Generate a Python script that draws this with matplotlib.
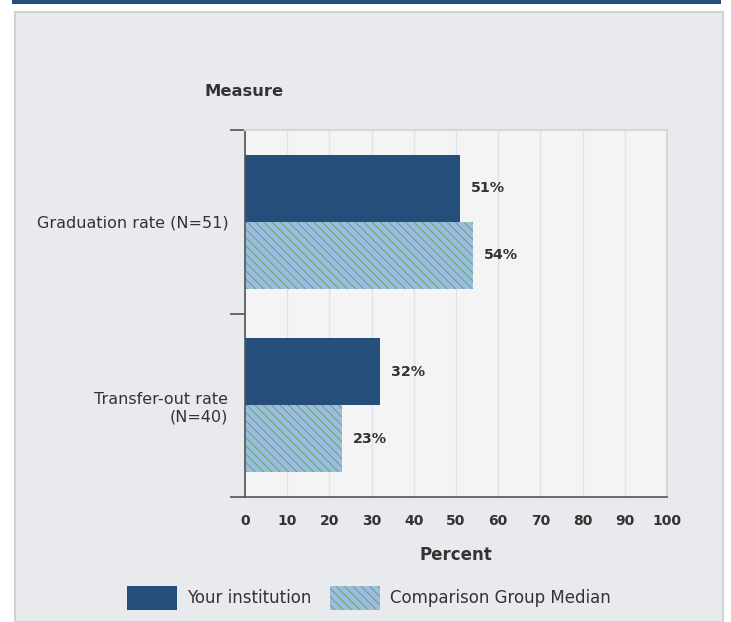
import matplotlib
matplotlib.use("Agg")
import matplotlib.pyplot as plt
from matplotlib.patches import Rectangle

plt.rcParams['font.family'] = ['DejaVu Sans']
plt.rcParams['hatch.linewidth'] = 0.6

# data
categories = ["Graduation rate (N=51)", "Transfer-out rate\n(N=40)"]
institution = [51, 32]
comparison = [54, 23]
series_names = ["Your institution", "Comparison Group Median"]
xticks = [0, 10, 20, 30, 40, 50, 60, 70, 80, 90, 100]

W, H = 731, 622
fig = plt.figure(figsize=(W / 100, H / 100), dpi=100)
fig.patch.set_facecolor("white")

# top stripe and grey panel
fig.add_artist(Rectangle((12 / W, 1 - 4 / H), 709 / W, 4 / H, transform=fig.transFigure,
                         facecolor="#264f7c", edgecolor="none", zorder=-2))
fig.add_artist(Rectangle((15 / W, 0), 708 / W, 1 - 12 / H, transform=fig.transFigure,
                         facecolor="#e9eaee", edgecolor="#d2d2d2", linewidth=1.5, zorder=-2))

ax = fig.add_axes([245 / W, 1 - 497 / H, 422 / W, 367 / H])
ax.set_facecolor("#f4f4f4")

h = 0.366
y = list(range(len(categories)))
b1 = ax.barh([v - h / 2 for v in y], institution, height=h, color="#254e7b",
             linewidth=0, label=series_names[0])
b2 = ax.barh([v + h / 2 for v in y], comparison, height=h, color="#9dbce1",
             edgecolor="#56a552", hatch="\\\\\\\\", linewidth=0, label=series_names[1])

for bars in (b1, b2):
    for r in bars:
        ax.annotate(f"{r.get_width():.0f}%", (r.get_width(), r.get_y() + r.get_height() / 2),
                    xytext=(11, 0), textcoords="offset pixels",
                    va="center", ha="left", fontsize=10.3, fontweight="bold", color="#333333")

ax.set_xlim(0, 100)
ax.set_ylim(1.5, -0.5)
ax.set_xticks(xticks)
ax.set_xticklabels([str(t) for t in xticks], fontsize=10, fontweight="bold", color="#333333")
ax.tick_params(axis="x", length=0, pad=12)
ax.set_yticks(y)
ax.set_yticklabels(categories, fontsize=11.5, color="#333333")
ax.set_yticks([-0.5, 0.5, 1.5], minor=True)
ax.tick_params(axis="y", which="major", length=0, pad=12)
ax.tick_params(axis="y", which="minor", length=11, width=1.2, color="#555555")
ax.xaxis.grid(True, color="#dce3ef", linewidth=1)
ax.set_axisbelow(True)

for s in ("left", "bottom"):
    ax.spines[s].set_color("#555555")
    ax.spines[s].set_linewidth(1.2)
for s in ("top", "right"):
    ax.spines[s].set_color("#d6d6d6")
    ax.spines[s].set_linewidth(1.5)

fig.text(244 / W, 1 - 92 / H, "Measure", ha="center", va="center", fontsize=11.8,
         fontweight="bold", color="#333333")
fig.text(456 / W, 1 - 555 / H, "Percent", ha="center", va="center", fontsize=12,
         fontweight="bold", color="#333333")

fig.legend(handles=[b1, b2], loc="center", bbox_to_anchor=(369 / W, 1 - 598 / H),
           ncol=2, frameon=False, fontsize=12, handlelength=3.0, handleheight=1.9,
           handletextpad=0.6, columnspacing=1.1, labelcolor="#333333")

fig.savefig("out.png", dpi=100)
